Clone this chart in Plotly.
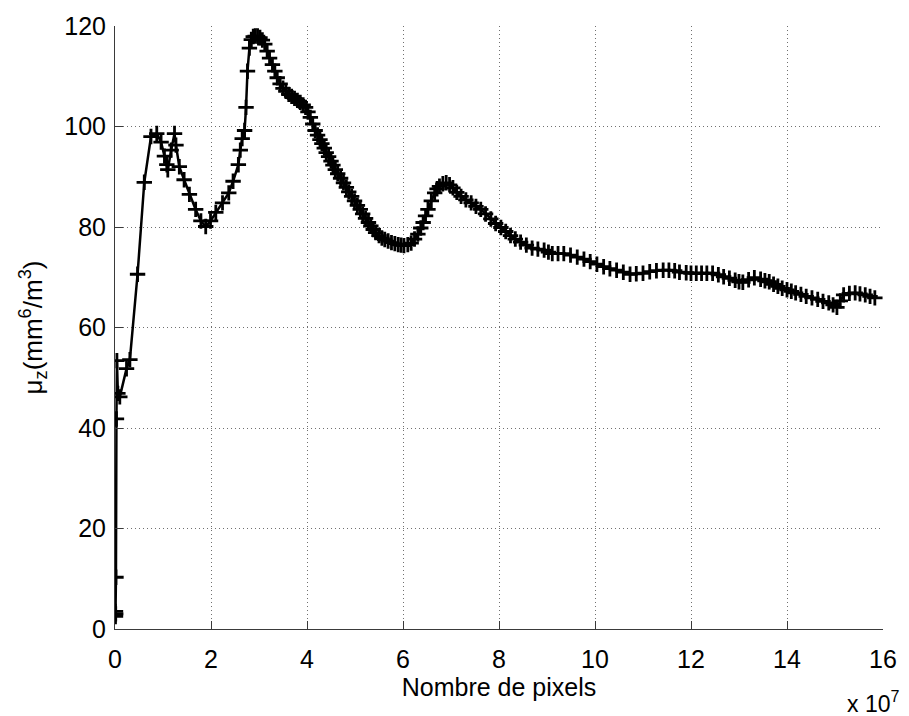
import plotly.graph_objects as go

# Number of pixels (in units of 1e7) and the corresponding mu_z (mm^6/m^3)
pixels_1e7 = [
    0.01, 0.01, 0.015, 0.02, 0.03, 0.04, 0.06, 0.10, 0.24, 0.31,
    0.47, 0.61, 0.75, 0.87, 0.96, 1.03, 1.08, 1.10, 1.17, 1.24,
    1.27, 1.34, 1.44, 1.55, 1.68, 1.79, 1.89, 1.99, 2.10, 2.24,
    2.37, 2.46, 2.57, 2.61, 2.65, 2.70, 2.73, 2.76, 2.80, 2.84,
    2.88, 2.92, 2.97, 3.02, 3.07, 3.12, 3.17, 3.22, 3.28, 3.33,
    3.38, 3.44, 3.50, 3.56, 3.62, 3.68, 3.74, 3.80, 3.86, 3.92,
    3.97, 4.02, 4.07, 4.12, 4.17, 4.22, 4.27, 4.31, 4.36, 4.40,
    4.45, 4.50, 4.54, 4.59, 4.64, 4.70, 4.76, 4.82, 4.87, 4.93,
    4.99, 5.05, 5.11, 5.16, 5.22, 5.28, 5.33, 5.38, 5.43, 5.50,
    5.56, 5.62, 5.69, 5.76, 5.83, 5.90, 5.96, 6.02, 6.10, 6.17,
    6.24, 6.31, 6.37, 6.42, 6.47, 6.52, 6.59, 6.66, 6.71, 6.76,
    6.83, 6.90, 6.97, 7.04, 7.12, 7.21, 7.31, 7.42, 7.52, 7.62,
    7.72, 7.83, 7.93, 8.04, 8.14, 8.24, 8.34, 8.45, 8.57, 8.69,
    8.81, 8.94, 9.03, 9.11, 9.23, 9.35, 9.49, 9.63, 9.77, 9.90,
    10.04, 10.18, 10.31, 10.45, 10.59, 10.73, 10.86, 11.00, 11.14, 11.28,
    11.42, 11.54, 11.66, 11.76, 11.90, 12.00, 12.11, 12.22, 12.33, 12.45,
    12.57, 12.68, 12.80, 12.92, 13.00, 13.08, 13.20, 13.32, 13.45, 13.54,
    13.63, 13.72, 13.81, 13.90, 14.00, 14.09, 14.18, 14.29, 14.40, 14.52,
    14.64, 14.75, 14.87, 14.96, 15.04, 15.11, 15.18, 15.30, 15.42, 15.52,
    15.63, 15.73, 15.83,
]
mu_z = [
    2.5, 3.5, 3.0, 10.3, 41.8, 53.4, 46.9, 46.2, 51.8, 53.6,
    70.6, 88.9, 98.0, 98.6, 96.9, 94.1, 92.4, 91.4, 95.3, 98.6,
    96.3, 92.0, 89.4, 86.5, 83.5, 81.2, 80.1, 81.2, 82.9, 84.8,
    86.8, 89.1, 92.4, 95.3, 97.6, 99.2, 103.8, 111.0, 115.6, 117.3,
    117.9, 118.0, 118.0, 117.7, 117.2, 116.4, 115.0, 113.6, 112.3, 111.0,
    109.7, 108.5, 107.6, 107.0, 106.4, 106.0, 105.6, 105.2, 104.8, 104.3,
    103.8, 102.9, 101.8, 100.5, 99.2, 98.3, 97.4, 96.6, 95.7, 94.8,
    94.0, 93.1, 92.3, 91.4, 90.6, 89.7, 88.8, 87.9, 87.0, 86.1,
    85.2, 84.3, 83.5, 82.6, 81.7, 80.9, 80.2, 79.5, 78.9, 78.3,
    77.8, 77.5, 77.2, 76.9, 76.7, 76.5, 76.4, 76.3, 76.5, 76.8,
    77.6, 78.6, 79.8, 80.9, 82.2, 83.5, 85.2, 86.8, 87.6, 88.1,
    88.6, 88.8, 88.4, 87.8, 86.9, 86.1, 85.4, 84.8, 84.1, 83.5,
    82.6, 81.6, 80.7, 79.9, 79.1, 78.3, 77.6, 77.0, 76.4, 75.8,
    75.6, 75.4, 75.0, 74.7, 74.7, 74.7, 74.4, 74.0, 73.6, 73.1,
    72.6, 72.1, 71.7, 71.4, 71.0, 70.6, 70.7, 70.8, 71.1, 71.3,
    71.4, 71.4, 71.3, 71.0, 70.9, 70.8, 70.8, 70.8, 70.8, 70.8,
    70.5, 70.1, 69.8, 69.4, 69.1, 69.0, 69.5, 69.9, 69.6, 69.3,
    69.1, 68.6, 68.2, 67.8, 67.5, 67.2, 66.9, 66.6, 66.2, 65.9,
    65.6, 65.2, 64.9, 64.5, 64.0, 65.3, 66.5, 66.8, 66.9, 66.7,
    66.5, 66.2, 65.9,
]

x_ticks = [0, 2, 4, 6, 8, 10, 12, 14, 16]
y_ticks = [0, 20, 40, 60, 80, 100, 120]

FONT = "Liberation Sans, Arial, Helvetica, sans-serif"

fig = go.Figure()
fig.add_trace(go.Scatter(
    x=pixels_1e7,
    y=mu_z,
    mode="lines+markers",
    line=dict(color="black", width=2.5),
    marker=dict(symbol="cross-thin", size=11, color="black",
                line=dict(color="black", width=2.8)),
    showlegend=False,
))

axis_common = dict(
    showgrid=True,
    gridcolor="#707070",
    griddash="1px,3px",
    gridwidth=1,
    showline=True,
    linecolor="#3a3a3a",
    linewidth=1,
    mirror=False,
    ticks="inside",
    ticklen=8,
    tickcolor="#3a3a3a",
    zeroline=False,
    tickfont=dict(family=FONT, size=25, color="black"),
)

fig.update_xaxes(
    range=[0, 16],
    tickvals=x_ticks,
    ticktext=[str(v) for v in x_ticks],
    ticklabelstandoff=8,
    title=dict(text="Nombre de pixels", font=dict(family=FONT, size=25, color="black"),
               standoff=0),
    **axis_common,
)
fig.update_yaxes(
    range=[0, 120],
    tickvals=y_ticks,
    ticktext=[str(v) for v in y_ticks],
    ticklabelstandoff=3,
    title=dict(text="μ<sub>z</sub>(mm<sup>6</sup>/m<sup>3</sup>)",
               font=dict(family=FONT, size=26, color="black"), standoff=14),
    **axis_common,
)

fig.add_annotation(
    text="x 10<sup>7</sup>",
    xref="paper", yref="paper",
    x=1.024, y=-0.121,
    xanchor="right", yanchor="middle",
    showarrow=False,
    font=dict(family=FONT, size=23, color="black"),
)

fig.update_layout(
    width=909,
    height=716,
    margin=dict(l=115, r=21, t=17, b=87),
    paper_bgcolor="white",
    plot_bgcolor="white",
    font=dict(family=FONT, color="black"),
)

fig.write_html("out.html")
